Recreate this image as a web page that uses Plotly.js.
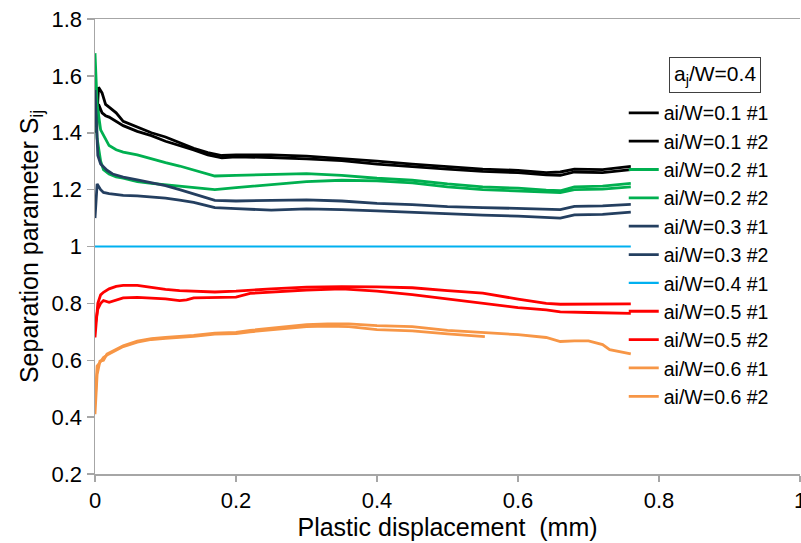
<!DOCTYPE html>
<html>
<head>
<meta charset="utf-8">
<script src="https://cdn.plot.ly/plotly-3.0.1.min.js"></script>
<style>html,body{margin:0;padding:0;background:#fff;}#chart{width:801px;height:543px;}</style>
</head>
<body>
<div id="chart"></div>
<script>
// ---- data ----
const seriesNames = ["ai/W=0.1 #1","ai/W=0.1 #2","ai/W=0.2 #1","ai/W=0.2 #2","ai/W=0.3 #1","ai/W=0.3 #2","ai/W=0.4 #1","ai/W=0.5 #1","ai/W=0.5 #2","ai/W=0.6 #1","ai/W=0.6 #2"];
const seriesColors = ["#000000","#000000","#00b050","#00b050","#243f60","#243f60","#00b0f0","#ff0000","#ff0000","#f79646","#f79646"];

const black1X = [0.002,0.005,0.01,0.015,0.02,0.03,0.04,0.06,0.08,0.1,0.12,0.14,0.16,0.18,0.2,0.25,0.3,0.35,0.4,0.45,0.5,0.55,0.6,0.64,0.66,0.68,0.72,0.76];
const black1Y = [1.42,1.56,1.54,1.50,1.49,1.47,1.44,1.42,1.40,1.385,1.365,1.345,1.33,1.32,1.322,1.322,1.318,1.31,1.30,1.29,1.282,1.272,1.268,1.26,1.262,1.272,1.27,1.282];
const black2X = [0.002,0.005,0.01,0.015,0.02,0.03,0.04,0.06,0.08,0.1,0.12,0.14,0.16,0.18,0.2,0.25,0.3,0.35,0.4,0.45,0.5,0.55,0.6,0.64,0.66,0.68,0.72,0.76];
const black2Y = [1.40,1.50,1.47,1.46,1.455,1.44,1.425,1.405,1.39,1.37,1.355,1.34,1.322,1.312,1.315,1.313,1.308,1.302,1.29,1.28,1.272,1.264,1.26,1.252,1.25,1.262,1.26,1.27];

const green1X = [0,0.003,0.008,0.012,0.02,0.03,0.04,0.06,0.08,0.1,0.12,0.14,0.16,0.17,0.2,0.25,0.3,0.35,0.4,0.45,0.5,0.55,0.6,0.64,0.66,0.68,0.72,0.76];
const green1Y = [1.68,1.50,1.41,1.39,1.355,1.34,1.332,1.322,1.308,1.295,1.283,1.27,1.255,1.248,1.25,1.254,1.256,1.25,1.24,1.233,1.22,1.21,1.205,1.198,1.196,1.21,1.212,1.222];
const green2X = [0,0.003,0.008,0.012,0.02,0.03,0.04,0.06,0.08,0.1,0.12,0.14,0.16,0.17,0.2,0.25,0.3,0.35,0.4,0.45,0.5,0.55,0.6,0.64,0.66,0.68,0.72,0.76];
const green2Y = [1.58,1.38,1.30,1.27,1.255,1.245,1.24,1.228,1.222,1.217,1.212,1.207,1.203,1.200,1.207,1.218,1.228,1.233,1.231,1.224,1.21,1.20,1.195,1.19,1.19,1.2,1.202,1.21];

const navy1X = [0,0.004,0.008,0.012,0.017,0.025,0.04,0.06,0.08,0.1,0.12,0.14,0.16,0.17,0.2,0.25,0.3,0.35,0.4,0.45,0.5,0.55,0.6,0.64,0.66,0.68,0.72,0.76];
const navy1Y = [1.55,1.32,1.29,1.28,1.268,1.255,1.244,1.234,1.225,1.214,1.2,1.185,1.172,1.162,1.16,1.162,1.164,1.16,1.152,1.147,1.14,1.137,1.134,1.13,1.13,1.141,1.143,1.148];
const navy2X = [0,0.003,0.008,0.012,0.02,0.04,0.06,0.08,0.1,0.12,0.14,0.16,0.17,0.2,0.25,0.3,0.35,0.4,0.45,0.5,0.55,0.6,0.64,0.66,0.68,0.72,0.76];
const navy2Y = [1.10,1.22,1.20,1.19,1.186,1.18,1.178,1.174,1.17,1.163,1.155,1.143,1.137,1.133,1.128,1.132,1.13,1.125,1.12,1.113,1.11,1.107,1.101,1.1,1.111,1.113,1.121];

const cyanX = [0,0.76];
const cyanY = [1,1];

const red1X = [0,0.004,0.008,0.012,0.02,0.03,0.04,0.06,0.08,0.1,0.12,0.14,0.17,0.2,0.22,0.25,0.3,0.35,0.4,0.45,0.5,0.55,0.6,0.64,0.66,0.7,0.76];
const red1Y = [0.68,0.80,0.83,0.839,0.851,0.86,0.863,0.863,0.856,0.849,0.845,0.843,0.84,0.843,0.847,0.851,0.857,0.859,0.858,0.855,0.845,0.836,0.815,0.80,0.797,0.798,0.798];
const red2X = [0,0.004,0.008,0.012,0.02,0.03,0.04,0.06,0.08,0.1,0.12,0.13,0.14,0.17,0.2,0.22,0.25,0.3,0.35,0.4,0.45,0.5,0.55,0.6,0.64,0.66,0.7,0.76];
const red2Y = [0.72,0.78,0.80,0.81,0.804,0.812,0.819,0.821,0.819,0.816,0.81,0.812,0.819,0.82,0.822,0.835,0.84,0.847,0.851,0.843,0.831,0.816,0.80,0.785,0.777,0.77,0.768,0.765];

const orange1X = [0,0.003,0.007,0.012,0.017,0.025,0.031,0.04,0.06,0.08,0.1,0.12,0.14,0.17,0.2,0.22,0.25,0.3,0.33,0.36,0.4,0.45,0.5,0.55,0.6,0.64,0.66,0.68,0.7,0.72,0.73,0.76];
const orange1Y = [0.41,0.55,0.597,0.60,0.622,0.633,0.639,0.651,0.667,0.676,0.68,0.683,0.687,0.695,0.698,0.705,0.712,0.725,0.728,0.728,0.722,0.718,0.705,0.698,0.69,0.68,0.666,0.668,0.668,0.655,0.637,0.622];
const orange2X = [0,0.003,0.007,0.012,0.017,0.025,0.031,0.04,0.06,0.08,0.1,0.12,0.14,0.17,0.2,0.22,0.25,0.3,0.33,0.36,0.4,0.45,0.5,0.553];
const orange2Y = [0.45,0.58,0.592,0.61,0.618,0.628,0.636,0.648,0.664,0.673,0.677,0.68,0.684,0.692,0.694,0.7,0.706,0.718,0.72,0.718,0.708,0.703,0.693,0.683];

const xTickVals = [0,0.2,0.4,0.6,0.8,1];
const xTickText = ["0","0.2","0.4","0.6","0.8","1"];
const yTickVals = [0.2,0.4,0.6,0.8,1,1.2,1.4,1.6,1.8];
const yTickText = ["0.2","0.4","0.6","0.8","1","1.2","1.4","1.6","1.8"];

const allX = [black1X,black2X,green1X,green2X,navy1X,navy2X,cyanX,red1X,red2X,orange1X,orange2X];
const allY = [black1Y,black2Y,green1Y,green2Y,navy1Y,navy2Y,cyanY,red1Y,red2Y,orange1Y,orange2Y];

const FONT = "Liberation Sans, Arial, sans-serif";
const traces = seriesNames.map((n,i)=>({
  x: allX[i], y: allY[i], name: n, type: "scatter", mode: "lines",
  line: {color: seriesColors[i], width: i === 6 ? 2.2 : 2.8},
  legendgroup: "g"+i
}));

const layout = {
  width: 801, height: 543,
  margin: {l: 95, r: 1, t: 19, b: 69},
  paper_bgcolor: "#ffffff", plot_bgcolor: "#ffffff",
  font: {family: FONT, color: "#000000", size: 20},
  showlegend: true,
  legend: {
    x: 0.75, y: 0.836, xanchor: "left", yanchor: "top",
    font: {family: FONT, size: 19.5, color: "#000"},
    bgcolor: "rgba(0,0,0,0)", borderwidth: 0,
    traceorder: "grouped", tracegroupgap: 0, itemwidth: 30
  },
  xaxis: {
    range: [0, 1], tickvals: xTickVals, ticktext: xTickText,
    showgrid: false, zeroline: false,
    showline: true, linecolor: "#a6a6a6", linewidth: 1.5, mirror: true,
    ticks: "outside", ticklen: 6, tickcolor: "#a6a6a6", tickwidth: 1.5,
    ticklabeloverflow: "allow",
    tickfont: {family: FONT, size: 22},
    title: {text: "Plastic displacement  (mm)", font: {family: FONT, size: 25}, standoff: 4}
  },
  yaxis: {
    range: [0.2, 1.8], tickvals: yTickVals, ticktext: yTickText,
    showgrid: false, zeroline: false,
    showline: true, linecolor: "#a6a6a6", linewidth: 1.5,
    ticks: "outside", ticklen: 7, tickcolor: "#a6a6a6", tickwidth: 1.5,
    tickfont: {family: FONT, size: 22},
    title: {text: "Separation parameter S<sub>ij</sub>", font: {family: FONT, size: 25}, standoff: 6}
  },
  annotations: [{
    xref: "paper", yref: "paper", x: 0.879, y: 0.877, xanchor: "center", yanchor: "middle",
    text: "a<sub>j</sub>/W=0.4", showarrow: false,
    font: {family: FONT, size: 21, color: "#000"},
    bordercolor: "#404040", borderwidth: 1, borderpad: 4, bgcolor: "#ffffff"
  }]
};

Plotly.newPlot("chart", traces, layout, {displayModeBar: false, staticPlot: true});
</script>
</body>
</html>
